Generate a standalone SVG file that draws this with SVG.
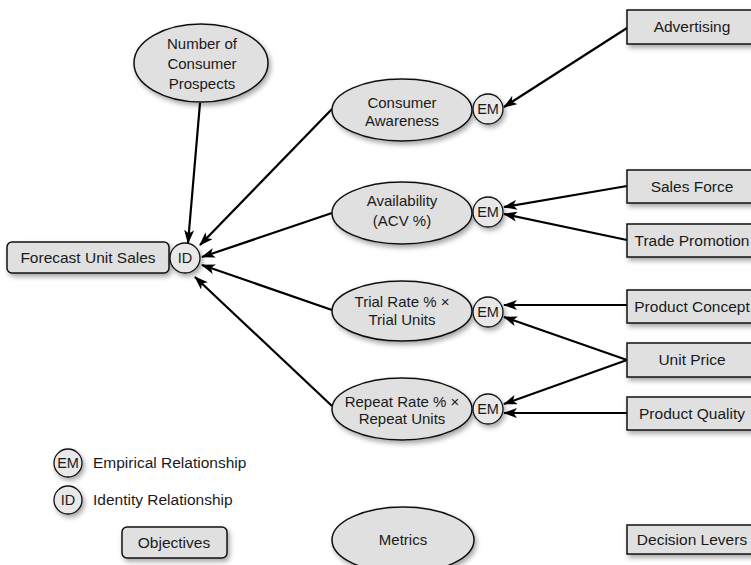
<svg xmlns="http://www.w3.org/2000/svg" width="751" height="565" viewBox="0 0 751 565">
<defs>
<filter id="sh" x="-20%" y="-20%" width="150%" height="160%">
<feDropShadow dx="2" dy="3" stdDeviation="2.5" flood-color="#000" flood-opacity="0.35"/>
</filter>
<marker id="ah" viewBox="0 0 14 10" refX="13" refY="5" markerWidth="14" markerHeight="10" markerUnits="userSpaceOnUse" orient="auto">
<path d="M0,0 L14,5 L0,10 L3.5,5 Z" fill="#000"/>
</marker>
</defs>
<style>
.n{fill:#e0e0e0;stroke:#111;stroke-width:1.5;filter:url(#sh)}
.c{fill:#e8e8e8;stroke:#111;stroke-width:1.3;filter:url(#sh)}
.t{font-family:"Liberation Sans",Arial,sans-serif;font-size:15.5px;fill:#1a1a1a;text-anchor:middle}
.s{font-family:"Liberation Sans",Arial,sans-serif;font-size:15px;fill:#1a1a1a;text-anchor:middle}
.m{font-family:"Liberation Sans",Arial,sans-serif;font-size:14.5px;fill:#1a1a1a;text-anchor:middle}
.l{font-family:"Liberation Sans",Arial,sans-serif;font-size:15.5px;fill:#1a1a1a}
.ea{stroke:#000;stroke-width:2.2;fill:none;marker-end:url(#ah)}
</style>
<rect width="751" height="565" fill="#fff"/>
<g id="connectors">
<line class="ea" x1="200" y1="103" x2="188" y2="243"/>
<line class="ea" x1="332" y1="109" x2="200" y2="245"/>
<line class="ea" x1="332" y1="213" x2="202" y2="257"/>
<line class="ea" x1="332" y1="310" x2="202" y2="265"/>
<line class="ea" x1="332" y1="406" x2="195" y2="277"/>
<line class="ea" x1="627" y1="28" x2="504" y2="107"/>
<line class="ea" x1="627" y1="186" x2="504" y2="207"/>
<line class="ea" x1="627" y1="240" x2="504" y2="214"/>
<line class="ea" x1="627" y1="305" x2="504" y2="305"/>
<line class="ea" x1="627" y1="360" x2="504" y2="317"/>
<line class="ea" x1="627" y1="360" x2="504" y2="404"/>
<line class="ea" x1="627" y1="413" x2="504" y2="413"/>
</g>
<g id="prospects">
<ellipse class="n" cx="201" cy="63" rx="67" ry="39"/>
<text class="s" x="202" y="49">Number of</text>
<text class="s" x="202" y="69">Consumer</text>
<text class="s" x="202" y="89">Prospects</text>
</g>
<g id="forecast">
<rect class="n" x="7" y="242" width="162" height="31" rx="5"/>
<text class="t" x="88" y="263">Forecast Unit Sales</text>
</g>
<g id="id-main">
<circle class="c" cx="185" cy="258" r="15"/>
<text class="m" x="185" y="263">ID</text>
</g>
<g id="awareness">
<ellipse class="n" cx="402" cy="110" rx="70" ry="31"/>
<text class="s" x="402" y="108">Consumer</text>
<text class="s" x="402" y="126">Awareness</text>
</g>
<g id="em1">
<circle class="c" cx="488" cy="109" r="15"/>
<text class="m" x="488" y="114">EM</text>
</g>
<g id="availability">
<ellipse class="n" cx="402" cy="213" rx="70" ry="31"/>
<text class="s" x="402" y="206">Availability</text>
<text class="s" x="402" y="226">(ACV %)</text>
</g>
<g id="em2">
<circle class="c" cx="488" cy="212" r="15"/>
<text class="m" x="488" y="217">EM</text>
</g>
<g id="trial">
<ellipse class="n" cx="402" cy="311" rx="70" ry="30"/>
<text class="s" x="402" y="307">Trial Rate % ×</text>
<text class="s" x="402" y="325">Trial Units</text>
</g>
<g id="em3">
<circle class="c" cx="488" cy="312" r="15"/>
<text class="m" x="488" y="317">EM</text>
</g>
<g id="repeat">
<ellipse class="n" cx="402" cy="409" rx="70" ry="31"/>
<text class="s" x="402" y="407">Repeat Rate % ×</text>
<text class="s" x="402" y="424">Repeat Units</text>
</g>
<g id="em4">
<circle class="c" cx="488" cy="409" r="15"/>
<text class="m" x="488" y="414">EM</text>
</g>
<g id="advertising">
<rect class="n" x="627" y="10" width="134" height="34"/>
<text class="t" x="692" y="32">Advertising</text>
</g>
<g id="salesforce">
<rect class="n" x="627" y="170" width="134" height="33"/>
<text class="t" x="692" y="192">Sales Force</text>
</g>
<g id="trade">
<rect class="n" x="627" y="224" width="134" height="33"/>
<text class="t" x="692" y="246">Trade Promotion</text>
</g>
<g id="concept">
<rect class="n" x="627" y="290" width="134" height="33"/>
<text class="t" x="692" y="312">Product Concept</text>
</g>
<g id="price">
<rect class="n" x="627" y="343" width="134" height="34"/>
<text class="t" x="692" y="365">Unit Price</text>
</g>
<g id="quality">
<rect class="n" x="627" y="397" width="134" height="33"/>
<text class="t" x="692" y="419">Product Quality</text>
</g>
<g id="legend-em">
<circle class="c" cx="68" cy="463" r="14"/>
<text class="m" x="68" y="468">EM</text>
<text class="l" x="93" y="468">Empirical Relationship</text>
</g>
<g id="legend-id">
<circle class="c" cx="68" cy="500" r="14"/>
<text class="m" x="68" y="505">ID</text>
<text class="l" x="93" y="505">Identity Relationship</text>
</g>
<g id="objectives">
<rect class="n" x="122" y="527" width="105" height="31" rx="5"/>
<text class="t" x="174" y="548">Objectives</text>
</g>
<g id="metrics">
<ellipse class="n" cx="403" cy="540" rx="71" ry="33"/>
<text class="s" x="403" y="545">Metrics</text>
</g>
<g id="levers">
<rect class="n" x="627" y="525" width="134" height="29"/>
<text class="t" x="692" y="545">Decision Levers</text>
</g>
</svg>
